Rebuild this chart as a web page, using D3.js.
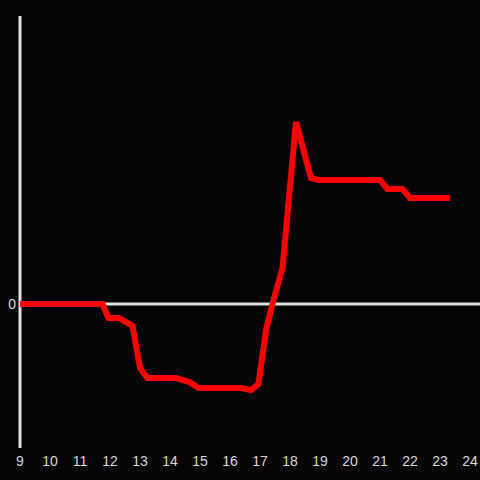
<!DOCTYPE html>
<html>
<head>
<meta charset="utf-8">
<script src="https://cdn.jsdelivr.net/npm/d3@7"></script>
<style>
  body { margin: 0; background: #050306; }
  svg { display: block; }
  text { font-family: "Liberation Sans", Arial, sans-serif; font-size: 14px; fill: #d8d8d8; }
</style>
</head>
<body>
<svg></svg>
<script>
let hours = [9, 11.75, 11.95, 12.3, 12.75, 13, 13.25, 14.2, 14.65, 14.95, 16.35, 16.7, 16.95,
             17.2, 17.45, 17.75, 18.2, 18.7, 18.95, 21, 21.25, 21.75, 22, 23.33];
let values = [0, 0, -1.4, -1.4, -2.2, -6.4, -7.4, -7.4, -7.8, -8.4, -8.4, -8.6, -8.0,
              -2.6, 0.4, 3.6, 18.2, 12.6, 12.4, 12.4, 11.5, 11.5, 10.6, 10.6];
let xTicks = d3.range(9, 25);
let yTicks = [0];

let width = 480;
let height = 480;

let svg = d3.select('svg')
    .attr('width', width)
    .attr('height', height);

let x = d3.scaleLinear().domain([9, 24]).range([20, 470]);
let y = d3.scaleLinear().domain([-14.4, 28.8]).range([448, 16]);

// zero line
svg.append('line')
    .attr('x1', x(9))
    .attr('x2', width)
    .attr('y1', y(0))
    .attr('y2', y(0))
    .attr('stroke', '#e0e0e0')
    .attr('stroke-width', 3);

// vertical axis
svg.append('line')
    .attr('x1', x(9))
    .attr('x2', x(9))
    .attr('y1', y.range()[1])
    .attr('y2', y.range()[0])
    .attr('stroke', '#e0e0e0')
    .attr('stroke-width', 3);

svg.selectAll('.ylab')
    .data(yTicks)
    .enter()
    .append('text')
        .classed('ylab', true)
        .attr('x', x(9) - 4)
        .attr('y', d => y(d))
        .attr('dy', '0.35em')
        .attr('text-anchor', 'end')
        .text(d => d);

svg.selectAll('.xlab')
    .data(xTicks)
    .enter()
    .append('text')
        .classed('xlab', true)
        .attr('x', d => x(d))
        .attr('y', 461)
        .attr('dy', '0.35em')
        .attr('text-anchor', 'middle')
        .text(d => d);

let points = hours.map((h, i) => [h, values[i]]);

let line = d3.line()
    .x(d => x(d[0]))
    .y(d => y(d[1]));

svg.append('path')
    .datum(points)
    .attr('fill', 'none')
    .attr('stroke', '#ff0000')
    .attr('stroke-width', 6)
    .attr('d', line);
</script>
</body>
</html>
